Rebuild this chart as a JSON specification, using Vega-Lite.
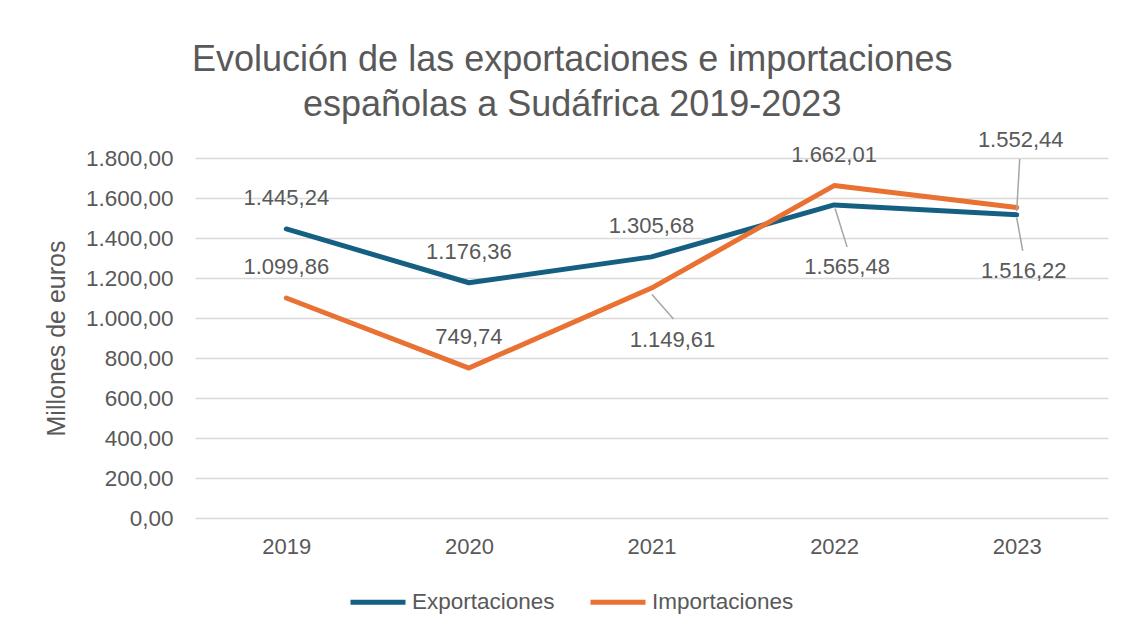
{
  "$schema": "https://vega.github.io/schema/vega-lite/v6.json",
  "width": 913,
  "height": 360,
  "autosize": {"type": "none"},
  "padding": {"left": 195, "top": 158, "right": 16, "bottom": 114},
  "background": "white",
  "title": {
    "text": ["Evolución de las exportaciones e importaciones", "españolas a Sudáfrica 2019-2023"],
    "fontSize": 36,
    "font": "Liberation Sans",
    "fontWeight": "normal",
    "color": "#595959",
    "anchor": "middle",
    "frame": "bounds",
    "lineHeight": 45,
    "offset": 10,
    "dx": -4,
    "dy": 5
  },
  "config": {
    "locale": {"number": {"decimal": ",", "thousands": ".", "grouping": [3], "currency": ["", " €"]}},
    "view": {"stroke": null},
    "font": "Liberation Sans"
  },
  "data": {
    "values": [
      {"year": "2019", "serie": "Exportaciones", "value": 1445.24},
      {"year": "2020", "serie": "Exportaciones", "value": 1176.36},
      {"year": "2021", "serie": "Exportaciones", "value": 1305.68},
      {"year": "2022", "serie": "Exportaciones", "value": 1565.48},
      {"year": "2023", "serie": "Exportaciones", "value": 1516.22},
      {"year": "2019", "serie": "Importaciones", "value": 1099.86},
      {"year": "2020", "serie": "Importaciones", "value": 749.74},
      {"year": "2021", "serie": "Importaciones", "value": 1149.61},
      {"year": "2022", "serie": "Importaciones", "value": 1662.01},
      {"year": "2023", "serie": "Importaciones", "value": 1552.44}
    ]
  },
  "encoding": {
    "x": {
      "field": "year",
      "type": "ordinal",
      "scale": {"type": "point", "padding": 0.5},
      "axis": {
        "title": null,
        "labelAngle": 0,
        "labelFontSize": 22,
        "labelColor": "#595959",
        "domain": false,
        "ticks": false,
        "tickSize": 0,
        "grid": false,
        "labelPadding": 18
      }
    },
    "y": {
      "field": "value",
      "type": "quantitative",
      "scale": {"domain": [0, 1800], "nice": false},
      "axis": {
        "values": [0, 200, 400, 600, 800, 1000, 1200, 1400, 1600, 1800],
        "format": ",.2f",
        "title": "Millones de euros",
        "titleFontSize": 25,
        "titleFontWeight": "normal",
        "titleColor": "#595959",
        "titlePadding": 16,
        "labelFontSize": 22.5,
        "labelColor": "#595959",
        "labelPadding": 22,
        "domain": false,
        "ticks": false,
        "tickSize": 0,
        "grid": true,
        "gridColor": "#D9D9D9",
        "gridWidth": 1.5
      }
    }
  },
  "layer": [
    {
      "mark": {"type": "line", "strokeWidth": 5, "strokeCap": "round", "strokeJoin": "round"},
      "encoding": {
        "color": {
          "field": "serie",
          "type": "nominal",
          "scale": {"domain": ["Exportaciones", "Importaciones"], "range": ["#156082", "#E97132"]},
          "legend": {
            "title": null,
            "orient": "none",
            "direction": "horizontal",
            "legendX": 153,
            "legendY": 414,
            "labelFontSize": 22.5,
            "labelColor": "#595959",
            "symbolType": "stroke",
            "symbolSize": 3025,
            "symbolStrokeWidth": 5,
            "labelOffset": 4,
            "columnPadding": 25,
            "padding": 0
          }
        }
      }
    },
    {
      "transform": [{"filter": "!((datum.serie=='Importaciones' && (datum.year=='2021' || datum.year=='2023')) || (datum.serie=='Exportaciones' && (datum.year=='2022' || datum.year=='2023')))"}],
      "mark": {"type": "text", "dy": -31, "fontSize": 22, "color": "#595959", "baseline": "middle", "align": "center"},
      "encoding": {"text": {"field": "value", "type": "quantitative", "format": ",.2f"}}
    },
    {
      "transform": [{"filter": "datum.serie=='Importaciones' && datum.year=='2021'"}],
      "mark": {"type": "text", "dx": 21, "dy": 52, "fontSize": 22, "color": "#595959", "baseline": "middle", "align": "center"},
      "encoding": {"text": {"field": "value", "type": "quantitative", "format": ",.2f"}}
    },
    {
      "transform": [{"filter": "datum.serie=='Exportaciones' && datum.year=='2022'"}],
      "mark": {"type": "text", "dx": 13, "dy": 62, "fontSize": 22, "color": "#595959", "baseline": "middle", "align": "center"},
      "encoding": {"text": {"field": "value", "type": "quantitative", "format": ",.2f"}}
    },
    {
      "transform": [{"filter": "datum.serie=='Importaciones' && datum.year=='2023'"}],
      "mark": {"type": "text", "dx": 4, "dy": -68, "fontSize": 22, "color": "#595959", "baseline": "middle", "align": "center"},
      "encoding": {"text": {"field": "value", "type": "quantitative", "format": ",.2f"}}
    },
    {
      "transform": [{"filter": "datum.serie=='Exportaciones' && datum.year=='2023'"}],
      "mark": {"type": "text", "dx": 7, "dy": 56, "fontSize": 22, "color": "#595959", "baseline": "middle", "align": "center"},
      "encoding": {"text": {"field": "value", "type": "quantitative", "format": ",.2f"}}
    },
    {
      "transform": [{"filter": "datum.serie=='Importaciones' && datum.year=='2021'"}],
      "mark": {"type": "rule", "xOffset": 0.5, "yOffset": 6.5, "x2Offset": 22, "y2Offset": 31, "color": "#A6A6A6", "strokeWidth": 1.5},
      "encoding": {"x2": {"field": "year"}, "y2": {"field": "value"}}
    },
    {
      "transform": [{"filter": "datum.serie=='Exportaciones' && datum.year=='2022'"}],
      "mark": {"type": "rule", "xOffset": 1, "yOffset": 3.6, "x2Offset": 13, "y2Offset": 42, "color": "#A6A6A6", "strokeWidth": 1.5},
      "encoding": {"x2": {"field": "year"}, "y2": {"field": "value"}}
    },
    {
      "transform": [{"filter": "datum.serie=='Importaciones' && datum.year=='2023'"}],
      "mark": {"type": "rule", "xOffset": 0, "yOffset": 3.5, "x2Offset": 3, "y2Offset": -48.5, "color": "#A6A6A6", "strokeWidth": 1.5},
      "encoding": {"x2": {"field": "year"}, "y2": {"field": "value"}}
    },
    {
      "transform": [{"filter": "datum.serie=='Exportaciones' && datum.year=='2023'"}],
      "mark": {"type": "rule", "xOffset": 0, "yOffset": 3, "x2Offset": 6, "y2Offset": 36, "color": "#A6A6A6", "strokeWidth": 1.5},
      "encoding": {"x2": {"field": "year"}, "y2": {"field": "value"}}
    }
  ]
}
